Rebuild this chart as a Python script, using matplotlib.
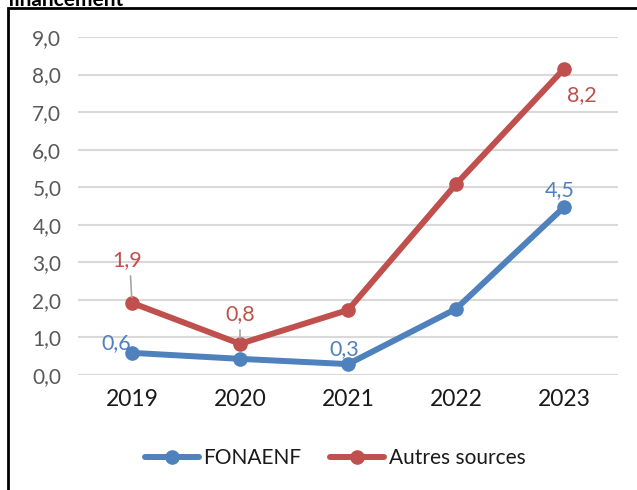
import matplotlib
matplotlib.use("Agg")
import matplotlib.pyplot as plt
from matplotlib.patches import Rectangle

plt.rcParams['font.family'] = ['Lato', 'DejaVu Sans']

years = ["2019", "2020", "2021", "2022", "2023"]
fonaenf = [0.59, 0.43, 0.29, 1.76, 4.47]
autres = [1.92, 0.83, 1.73, 5.08, 8.15]
yticks = [0, 1, 2, 3, 4, 5, 6, 7, 8, 9]

blue = "#4F81BD"
red = "#C0504D"

fig = plt.figure(figsize=(6.37, 4.90), dpi=100)
ax = fig.add_axes([78/637, 1-375/490, (618-78)/637, (375-37)/490])

x = list(range(len(years)))
l1, = ax.plot(x, fonaenf, color=blue, lw=4.3, marker='o', ms=9.5, label="FONAENF",
              solid_capstyle='round', zorder=3)
l2, = ax.plot(x, autres, color=red, lw=4.3, marker='o', ms=9.5, label="Autres sources",
              solid_capstyle='round', zorder=3)

ax.set_xlim(-0.5, 4.5)
ax.set_ylim(0, 9)
ax.set_yticks(yticks)
ax.set_yticklabels([f"{v:.1f}".replace('.', ',') for v in yticks], color="#595959", fontsize=15)
ax.set_xticks(x)
ax.set_xticklabels(years, fontsize=16.5, color="#1a1a1a")
ax.tick_params(length=0, pad=10)
ax.tick_params(axis='y', pad=12)
ax.grid(axis='y', color="#D9D9D9", lw=1.5)
ax.set_axisbelow(True)
for s in ax.spines.values():
    s.set_visible(False)

def lab(i, series, txt, color, dx, dy, leader=False):
    ax.annotate(txt, (i, series[i]), xytext=(dx, dy), textcoords='offset pixels',
                ha='center', va='center', color=color, fontsize=15.5, zorder=4)
    if leader:
        ax.annotate("", (i, series[i]), xytext=(dx * 0.3, dy - 16), textcoords='offset pixels',
                    arrowprops=dict(arrowstyle='-', color="#A6A6A6", lw=1.2, shrinkA=0, shrinkB=4))

lab(0, fonaenf, "0,6", blue, -16, 10)
lab(2, fonaenf, "0,3", blue, -4, 15)
lab(4, fonaenf, "4,5", blue, -4, 17)
lab(0, autres, "1,9", red, -5, 43, leader=True)
lab(1, autres, "0,8", red, 0, 30, leader=True)
lab(4, autres, "8,2", red, 18, -26)

leg = fig.legend(handles=[l1, l2], loc='center', bbox_to_anchor=(335/637, 1-458/490),
                 ncol=2, frameon=False, fontsize=15, handlelength=2.6, columnspacing=1.4,
                 handletextpad=0.2)
for t in leg.get_texts():
    t.set_color("#1a1a1a")

fig.patches.append(Rectangle((8/637, -0.1), 1.2, 1 - 8/490 + 0.1, transform=fig.transFigure,
                             fill=False, edgecolor='black', lw=2, zorder=10))
fig.text(8/637, 1.0, "financement", ha='left', va='center', fontsize=15, fontweight='bold',
         color='black')

fig.savefig("out.png", dpi=100)
